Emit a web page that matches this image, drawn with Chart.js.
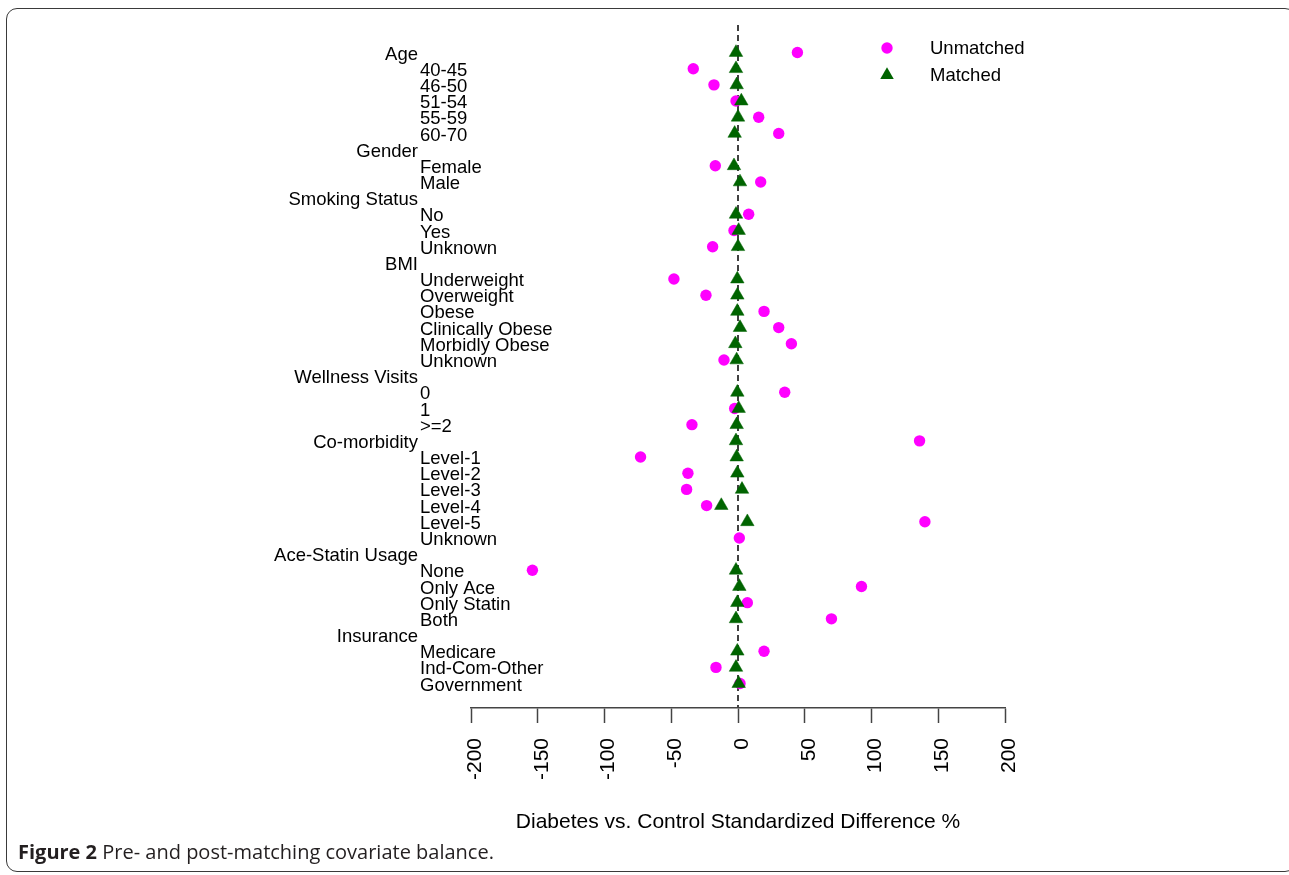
<!DOCTYPE html>
<html>
<head>
<meta charset="utf-8">
<script src="https://cdn.jsdelivr.net/npm/chart.js@4.4.1/dist/chart.umd.min.js"></script>
<style>
  html, body { margin: 0; padding: 0; background: #fff; }
  body { width: 1289px; height: 875px; position: relative; overflow: hidden; }
  #frame { position: absolute; left: 6px; top: 8px; width: 1290px; height: 864px;
           border: 1.5px solid #3a3a3a; border-radius: 11px; box-sizing: border-box; }
  #wrap { position: absolute; left: 0; top: 0; width: 1289px; height: 875px; }
  #caption { position: absolute; left: 18px; top: 838px; font-family: 'Open Sans', sans-serif;
             font-size: 20px; color: #231f20; white-space: nowrap; }
  #caption b { font-weight: 700; }
</style>
</head>
<body>
<div id="frame"></div>
<div id="wrap"><canvas id="c"></canvas></div>
<div id="caption"><b>Figure 2</b> Pre- and post-matching covariate balance.</div>
<script>
// ---- data ----
const categories = [
  'Age','40-45','46-50','51-54','55-59','60-70',
  'Gender','Female','Male',
  'Smoking Status','No','Yes','Unknown',
  'BMI','Underweight','Overweight','Obese','Clinically Obese','Morbidly Obese','Unknown',
  'Wellness Visits','0','1','>=2',
  'Co-morbidity','Level-1','Level-2','Level-3','Level-4','Level-5','Unknown',
  'Ace-Statin Usage','None','Only Ace','Only Statin','Both',
  'Insurance','Medicare','Ind-Com-Other','Government'
];
const groupHeaders = ['Age','Gender','Smoking Status','BMI','Wellness Visits','Co-morbidity','Ace-Statin Usage','Insurance'];
const unmatched = [
  44.5, -33.5, -18, -1.5, 15.5, 30.5,
  null, -17, 17,
  null, 8, -3, -19,
  null, -48, -24, 19.5, 30.5, 40, -10.5,
  null, 35, -2.5, -34.5,
  136, -73, -37.5, -38.5, -23.5, 140, 1,
  null, -154, 92.5, 7, 70,
  null, 19.5, -16.5, 1.5
];
const matched = [
  -1.5, -1.5, -1, 2.5, 0, -2.5,
  null, -3, 1.5,
  null, -1.5, 0.5, 0,
  null, -0.5, -0.5, -0.5, 1.5, -2, -1,
  null, -0.5, 0.5, -1,
  -1.5, -1, -0.5, 3, -12.5, 7, null,
  null, -1.5, 1, -0.5, -1.5,
  null, -0.5, -1.5, 0.5
];
const xTickLabels = ['-200','-150','-100','-50','0','50','100','150','200'];
const seriesNames = ['Unmatched', 'Matched'];
const xAxisTitle = 'Diabetes vs. Control Standardized Difference %';

// ---- build ----
const toPoints = arr => arr.map((v, i) => v === null ? null : { x: v, y: i }).filter(p => p);
const FONT = "'Liberation Sans', Arial, sans-serif";
Chart.defaults.font.family = FONT;
Chart.defaults.color = '#000';

const zeroLine = {
  id: 'zeroLine',
  beforeDatasetsDraw(chart) {
    const { ctx, chartArea, scales } = chart;
    const x = scales.x.getPixelForValue(0);
    ctx.save();
    ctx.strokeStyle = '#404040';
    ctx.lineWidth = 2;
    ctx.setLineDash([6, 4]);
    ctx.beginPath();
    ctx.moveTo(x, chartArea.top);
    ctx.lineTo(x, chartArea.bottom);
    ctx.stroke();
    ctx.restore();
  }
};

const rowLabels = {
  id: 'rowLabels',
  afterDraw(chart) {
    const { ctx, chartArea, scales } = chart;
    ctx.save();
    ctx.font = '18.5px ' + FONT;
    ctx.fillStyle = '#000';
    ctx.textBaseline = 'middle';
    categories.forEach((lab, i) => {
      const y = scales.y.getPixelForValue(i) + 2;
      if (groupHeaders.includes(lab)) {
        ctx.textAlign = 'right';
        ctx.fillText(lab, chartArea.left - 53, y);
      } else {
        ctx.textAlign = 'left';
        ctx.fillText(lab, chartArea.left - 51, y);
      }
    });
    ctx.restore();
  }
};

const customLegend = {
  id: 'customLegend',
  afterDraw(chart) {
    const { ctx, chartArea } = chart;
    ctx.save();
    chart.data.datasets.forEach((ds, k) => {
      const cx = chartArea.right - 118;
      const cy = chartArea.top + 23 + k * 27;
      ctx.fillStyle = ds.backgroundColor;
      ctx.beginPath();
      if (ds.pointStyle === 'triangle') {
        const r = ds.pointRadius;
        for (let j = 0; j < 3; j++) {
          const a = j * 2 * Math.PI / 3;
          const px = cx + Math.sin(a) * r, py = cy - Math.cos(a) * r;
          j === 0 ? ctx.moveTo(px, py) : ctx.lineTo(px, py);
        }
        ctx.closePath();
      } else {
        ctx.arc(cx, cy, ds.pointRadius, 0, Math.PI * 2);
      }
      ctx.fill();
      ctx.font = '18.5px ' + FONT;
      ctx.fillStyle = '#000';
      ctx.textAlign = 'left';
      ctx.textBaseline = 'middle';
      ctx.fillText(ds.label, chartArea.right - 75, cy + 1);
    });
    ctx.restore();
  }
};

new Chart(document.getElementById('c'), {
  type: 'scatter',
  data: {
    datasets: [
      { label: seriesNames[0], data: toPoints(unmatched), pointStyle: 'circle', pointRadius: 5.7,
        backgroundColor: '#ff00ff', borderWidth: 0, order: 2 },
      { label: seriesNames[1], data: toPoints(matched), pointStyle: 'triangle', pointRadius: 7.8,
        backgroundColor: '#006400', borderColor: '#006400', borderWidth: 0.5, order: 1 }
    ]
  },
  options: {
    responsive: true,
    maintainAspectRatio: false,
    animation: false,
    devicePixelRatio: 1,
    layout: { padding: { left: 471, right: 284, top: 25, bottom: 0 } },
    plugins: { legend: { display: false }, tooltip: { enabled: false } },
    scales: {
      x: {
        type: 'linear', min: -200, max: 200,
        afterFit(scale) { scale.height = 167; },
        ticks: {
          stepSize: 50, minRotation: 90, maxRotation: 90, padding: 15, labelOffset: 4,
          font: { size: 21 }, color: '#000',
          callback: (v) => { const s = String(v); return xTickLabels.includes(s) ? s : ''; }
        },
        grid: { drawOnChartArea: false, drawTicks: true, tickLength: 15, tickColor: '#444', tickWidth: 1.5 },
        border: { display: true, color: '#444', width: 1.5 },
        title: { display: true, text: xAxisTitle, font: { size: 21 }, color: '#000', padding: { top: 0, bottom: 40 } }
      },
      y: {
        type: 'linear', reverse: true, min: -1.70, max: 40.51, display: false
      }
    }
  },
  plugins: [zeroLine, rowLabels, customLegend]
});
</script>
</body>
</html>
